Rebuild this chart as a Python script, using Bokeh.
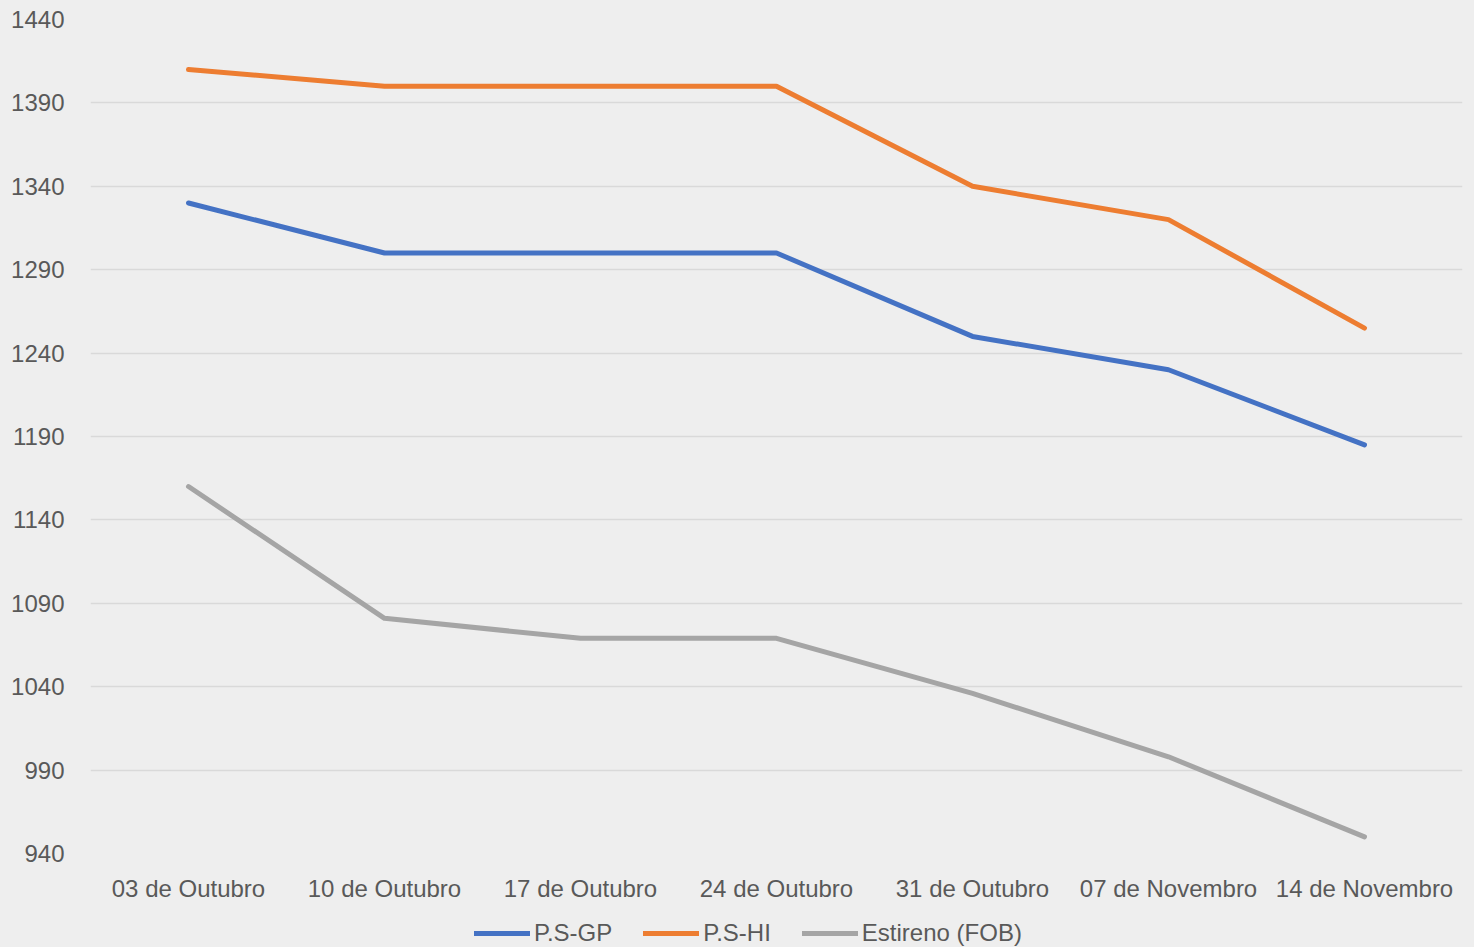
from bokeh.plotting import figure
from bokeh.layouts import column
from bokeh.models import FactorRange, Range1d, FixedTicker, Legend, LegendItem
from bokeh.embed import file_html
from bokeh.resources import INLINE

categories = ["03 de Outubro", "10 de Outubro", "17 de Outubro", "24 de Outubro",
              "31 de Outubro", "07 de Novembro", "14 de Novembro"]
ps_gp = [1330, 1300, 1300, 1300, 1250, 1230, 1185]
ps_hi = [1410, 1400, 1400, 1400, 1340, 1320, 1255]
estireno = [1160, 1081, 1069, 1069, 1036, 998, 950]
y_ticks = [940, 990, 1040, 1090, 1140, 1190, 1240, 1290, 1340, 1390, 1440]
series_names = ["P.S-GP", "P.S-HI", "Estireno (FOB)"]

BG = "#eeeeee"
FONT = "Liberation Sans"
TXT = "#595959"
COLORS = ["#4472c4", "#ed7d31", "#a5a5a5"]

p = figure(x_range=FactorRange(*categories), y_range=Range1d(940, 1440),
           width=1474, height=906,
           min_border_left=90, min_border_right=12, min_border_top=19, min_border_bottom=53,
           output_backend="svg", toolbar_location=None,
           background_fill_color=BG, border_fill_color=BG, outline_line_color=None)

all_series = [ps_gp, ps_hi, estireno]
for vals, col in zip(all_series, COLORS):
    p.line(categories, vals, line_color=col, line_width=5, line_cap="round", line_join="round")

p.yaxis.ticker = FixedTicker(ticks=y_ticks)
p.xgrid.grid_line_color = None
p.ygrid.grid_line_color = "#d9d9d9"
p.ygrid.grid_line_width = 1.5

for ax in (p.xaxis, p.yaxis):
    ax.axis_line_color = None
    ax.major_tick_line_color = None
    ax.minor_tick_line_color = None
    ax.major_label_text_font = FONT
    ax.major_label_text_font_size = "24px"
    ax.major_label_text_color = TXT
p.yaxis.major_label_standoff = 20
p.xaxis.major_label_standoff = 15

# legend strip below the chart (series drawn out of its visible range; only the legend shows)
lg = figure(width=1474, height=41, x_range=FactorRange(*categories), y_range=Range1d(0, 1),
            min_border=0, output_backend="svg", toolbar_location=None,
            x_axis_location=None, y_axis_location=None,
            background_fill_color=BG, border_fill_color=BG, outline_line_color=None)
lg.xgrid.grid_line_color = None
lg.ygrid.grid_line_color = None
items = []
for name, vals, col in zip(series_names, all_series, COLORS):
    r = lg.line(categories, vals, line_color=col, line_width=5, line_cap="round")
    items.append(LegendItem(label=name, renderers=[r]))

legend = Legend(items=items, orientation="horizontal", location=(384, 0),
                label_text_font=FONT, label_text_font_size="24px", label_text_color=TXT,
                glyph_width=56, glyph_height=24, label_standoff=4, spacing=31,
                padding=0, margin=0, border_line_color=None,
                background_fill_color=BG, background_fill_alpha=0)
lg.add_layout(legend, "center")

layout = column(p, lg, spacing=0, styles={"background-color": BG})
open("out.html", "w").write(file_html(layout, INLINE))
